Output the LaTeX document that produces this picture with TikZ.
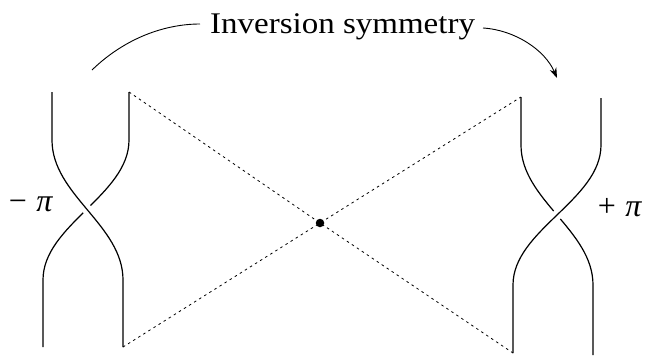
\documentclass[tikz,border=0pt]{standalone}
\usepackage{fontspec}
\setmainfont{Liberation Serif}
\newfontfamily\titlefont[FakeStretch=1.1]{Liberation Serif}
\usetikzlibrary{arrows, arrows.meta, positioning}

\begin{document}
\begin{tikzpicture}[
    x=1pt, y=-1pt,
    strand/.style={line width=1.2pt, black},
    over/.style={strand, preaction={draw, white, line width=10pt}},
    dotline/.style={line width=0.8pt, dash pattern=on 2.5pt off 3.5pt},
    conn/.style={line width=0.9pt},
    centre/.style={circle, fill, inner sep=0pt, minimum size=8.5pt},
    lbl/.style={font=\fontsize{32}{38}\selectfont, inner sep=0pt}
]

\useasboundingbox (0,0) rectangle (646,359);

% ==================== TITLE AND ARROW ====================

\node[font=\titlefont\fontsize{30}{36}\selectfont, inner sep=0pt, anchor=base west] (title) at (210,33) {Inversion symmetry};

\coordinate (arcL) at (92,70);
\coordinate (arcLend) at (200,24);
\coordinate (arcRstart) at (483,28);
\coordinate (arcR) at (557,78);

\draw[conn] (arcL) .. controls (125,38) and (165,24) .. (arcLend);
\draw[conn, -{Stealth[length=10pt, width=7pt, inset=3pt]}] (arcRstart) .. controls (515,30) and (545,50) .. (arcR);

% ==================== BRAID ENDS ====================

\coordinate (lAtop) at (52,92);
\coordinate (lAbot) at (123,347);
\coordinate (lBtop) at (129,92);
\coordinate (lBbot) at (43,347);

\coordinate (rCtop) at (521,97);
\coordinate (rCbot) at (593,355);
\coordinate (rDtop) at (601,98);
\coordinate (rDbot) at (513,353);

% Left braid (-pi)
\draw[strand] (lBtop) -- (129,140) .. controls (129,195) and (43,225) .. (43,280) -- (lBbot);
\draw[over] (lAtop) -- (52,140) .. controls (52,195) and (123,225) .. (123,280) -- (lAbot);

% Right braid (+pi)
\draw[strand] (rCtop) -- (521,145) .. controls (521,200) and (593,230) .. (593,285) -- (rCbot);
\draw[over] (rDtop) -- (601,145) .. controls (601,200) and (513,230) .. (513,285) -- (rDbot);

\node[lbl] (minuspi) at (31,204) {−\hspace{0.3em}\textit{π}};
\node[lbl] (pluspi) at (620,208) {+\hspace{0.3em}\textit{π}};

% ==================== INVERSION CENTRE ====================

\node[centre] (centre) at (320,223) {};

\draw[dotline] (lBtop) -- (centre.center) -- (rDbot);
\draw[dotline] (lAbot) -- (centre.center) -- (rCtop);

\end{tikzpicture}
\end{document}
